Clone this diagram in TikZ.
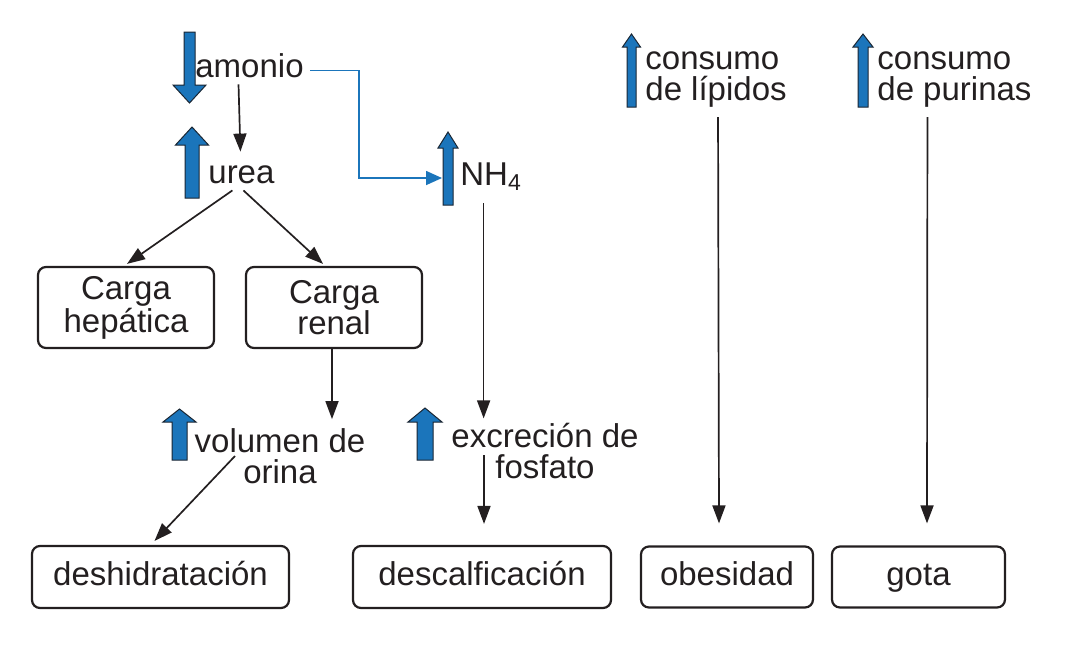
\documentclass[tikz,border=0pt]{standalone}
\usepackage{fontspec}
\setmainfont{Liberation Sans}
\usetikzlibrary{arrows.meta,calc}
\definecolor{ink}{HTML}{231F20}
\definecolor{bblue}{HTML}{1B75BB}
\definecolor{bedge}{HTML}{1A2633}
\newcommand\blockarrow[6]{\filldraw[bigarr] (#1-#5,#4) -- (#1-#5,#3) -- (#1-#6,#3) -- (#1,#2) -- (#1+#6,#3) -- (#1+#5,#3) -- (#1+#5,#4) -- cycle;}
\begin{document}
\begin{tikzpicture}[x=0.5pt,y=-0.5pt,
  font=\fontsize{16.5}{15.5}\selectfont,
  lbl/.style={inner sep=0pt, text height=12pt, text depth=3.5pt, text=ink},
  ml/.style={inner sep=0pt, align=center, text=ink},
  box/.style={draw=ink, line width=1.1pt, rounded corners=4pt, inner sep=0pt, align=center, text=ink},
  onebox/.style={box, text height=12pt, text depth=3.5pt},
  conn/.style={draw=ink, line width=0.85pt, -{Triangle[length=9pt,width=6.5pt]}},
  bconn/.style={draw=bblue, line width=0.85pt, -{Triangle[length=8pt,width=7pt]}},
  bigarr/.style={fill=bblue, draw=bedge, line width=0.5pt, line join=miter}]
\useasboundingbox (0,0) rectangle (1066,645);

% text labels
\node[lbl, anchor=base west] (amonio) at (195,77) {amonio};
\node[lbl, anchor=base west] (urea) at (208,183) {urea};
\node[lbl, anchor=base west] (nh4) at (460,185) {NH\raisebox{-0.3ex}{\fontsize{11.5}{11.5}\selectfont 4}};
\node[ml] (vol) at (280,456) {volumen de\\orina};
\node[ml] (exc) at (545,451) {excreción de\\fosfato};
\node[ml, align=left, anchor=west] (lip) at (645,80) {consumo\\de lípidos};
\node[ml, align=left, anchor=west] (pur) at (877,80) {consumo\\de purinas};

% boxes
\node[box, minimum width=88pt, minimum height=40.5pt] (hep) at (126,307.5) {Carga\\hepática};
\node[box, minimum width=88pt, minimum height=40.5pt] (ren) at (334,307.5) {Carga\\renal};
\node[onebox, minimum width=128.5pt, minimum height=31pt] (desh) at (160.5,577) {deshidratación};
\node[onebox, minimum width=129pt, minimum height=31pt] (desc) at (482,577) {descalficación};
\node[onebox, minimum width=86pt, minimum height=30.5pt] (obes) at (727,577) {obesidad};
\node[onebox, minimum width=86.5pt, minimum height=30.5pt] (gota) at (918.5,577) {gota};

% block arrows
\blockarrow{189.5}{103}{85}{32}{5.5}{16.5}
\blockarrow{192}{127}{145}{198}{7}{16.5}
\blockarrow{448}{132}{148}{205}{5}{10}
\blockarrow{179.5}{409}{422}{460}{7.5}{16.5}
\blockarrow{425}{408}{422}{460}{8}{17}
\blockarrow{631.5}{34}{47}{107}{4.5}{9}
\blockarrow{863}{34}{47}{107}{5}{10}

% connectors
\draw[conn] ($(amonio.south)+(-11,0)$) -- ($(urea.north)+(-1,-7)$);
\draw[bconn] ($(amonio.east)+(6,2)$) -| ($(nh4.west)+(-101,1.5)$) -- ($(nh4.west)+(-18,1.5)$);
\draw[conn] ($(urea.south)+(-9,0)$) -- ($(hep.north)+(1,-2)$);
\draw[conn] ($(urea.south)+(2,0)$) -- ($(ren.north)+(-11,-2)$);
\draw[conn] ($(ren.south)+(-2,0)$) -- ++(0,70);
\draw[conn] ($(vol.center)+(-45,0)$) -- ($(desh.north)+(-6,-4)$);
\draw[conn] ($(nh4.south)+(-7,11)$) -- ++(0,215);
\draw[conn] ($(exc.center)+(-61,4)$) -- ($(desc.north)+(2,-21)$);
\draw[conn] ($(lip.south)+(2,9)$) -- ($(obes.north)+(-8,-22)$);
\draw[conn] ($(pur.south)+(-27,9)$) -- ($(gota.north)+(8.5,-22)$);
\end{tikzpicture}
\end{document}
